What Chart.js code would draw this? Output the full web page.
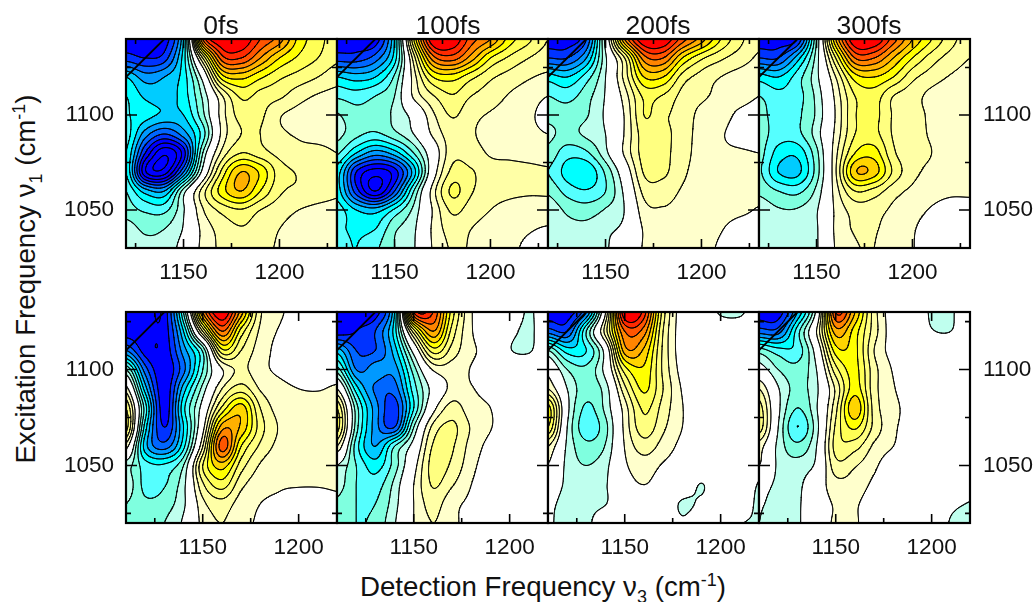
<!DOCTYPE html>
<html>
<head>
<meta charset="utf-8">
<script src="https://cdn.jsdelivr.net/npm/chart.js@4"></script>
<style>
  body { margin: 0; background: #fff; }
  #page { position: relative; width: 1033px; height: 602px; overflow: hidden; font-family: "Liberation Sans", sans-serif; color: #111; }
  canvas { position: absolute; }
  .txt { position: absolute; white-space: nowrap; transform: translate(-50%, -50%); }
  .panelTitle { font-size: 26.5px; }
  .axisTitle { font-size: 27.7px; }
  .axisTitle sub, .axisTitle sup { font-size: 18px; line-height: 0; }
</style>
</head>
<body>
<div id="page">
  <div class="txt axisTitle" style="left:543px;top:587px">Detection Frequency &nu;<sub>3</sub> (cm<sup>-1</sup>)</div>
  <div class="txt axisTitle" style="left:26px;top:279px;transform:translate(-50%,-50%) rotate(-90deg)">Excitation Frequency &nu;<sub>1</sub> (cm<sup>-1</sup>)</div>
</div>
<script>
const delayLabels = ['0fs', '100fs', '200fs', '300fs'];
const labelledTicks = [1050, 1100, 1150, 1200];
const topDetection = [1120, 1130, 1140, 1150, 1160, 1170, 1180, 1190, 1200, 1210, 1220, 1230];
const topExcitation = [1140, 1130, 1120, 1110, 1100, 1090, 1080, 1070, 1060, 1050, 1040, 1030];
const bottomDetection = [1110, 1120, 1130, 1140, 1150, 1160, 1170, 1180, 1190, 1200, 1210, 1220];
const bottomExcitation = [1130, 1120, 1110, 1100, 1090, 1080, 1070, 1060, 1050, 1040, 1030, 1020];

// signal in contour steps, rows follow the excitation list, columns the detection list
const top0fs = [
  [-9.6,-9.6,-9.6,-5,9,12,12,10,8.5,5.7,4.4,3.5],
  [-8.5,-9,-8.5,-4.5,3,9.5,10,8,6,4.8,4,3.2],
  [-5,-6.5,-6,-4.5,-0.5,5.5,6.3,5.2,4.2,3.6,3,2.4],
  [-4,-5.2,-5.5,-4.5,-1.8,1.9,4.2,3.6,3.2,2.4,1.9,1.7],
  [-3.9,-4.6,-5.2,-5,-2.3,1.5,3.4,3.2,2.1,1.7,1.5,1.6],
  [-3.5,-6.5,-8,-6.5,-3.5,1.3,3,3,2.2,1.9,1.75,1.75],
  [-4,-9,-11.8,-9.5,-2,2.3,4,3.4,2.7,2.3,2.2,2],
  [-4,-10.8,-11.5,-7,-0.5,4.3,7,5.8,3.5,2.9,2.4,2.2],
  [-3,-5.5,-6,-1.5,2.5,5.5,7,5,3.2,2.8,2.4,2.1],
  [-2.5,-3.2,-3.3,-1.1,1.9,3.3,3.9,3,2.4,2,1.8,1.8],
  [-1.5,-2.2,-2,-0.9,1.3,2.4,2.9,2.5,2,1.7,1.6,1.6],
  [-1.2,-1.7,-1.6,-0.5,1.3,2.2,2.5,2.2,1.9,1.5,1.3,1.2]
];
const top100fs = [
  [-9.6,-9.6,-9.6,-5,5,12,12,9.5,8,5.5,4.2,3],
  [-8.5,-8.5,-7.5,-4.5,2.5,8.5,9.5,7.5,5,3.8,3,2.5],
  [-5,-5.5,-5,-2.8,1.5,5,5.5,4.3,3.2,2.6,2.1,1.8],
  [-3.2,-3.5,-3,-2,1.2,2.9,3.9,3,2.5,1.9,1.5,1],
  [-1.9,-2.7,-2.6,-1.8,-0.5,1.8,3.1,2.3,1.9,1.6,1.2,0.6],
  [-1.7,-2.7,-3.2,-2.3,-1,1.2,2.5,2.1,1.7,1.5,1.3,1],
  [-2.8,-5,-6.5,-5.5,-3,0,2.6,2.4,1.9,1.8,1.7,1.6],
  [-4.5,-9,-10.5,-9.5,-5.5,0.2,3.3,3.1,2.4,2.3,2.2,2.1],
  [-4.5,-8.5,-11,-8,-3,1.5,4.2,3.1,2.4,2.2,2.1,2.1],
  [-3.5,-5,-5.5,-3.8,-1.7,1.1,3.2,2.5,2,1.7,1.6,1.6],
  [-3.8,-4.2,-4,-2.2,-1.2,1.2,2.4,2,1.6,1.4,1.1,0.9],
  [-3.6,-4,-3.2,-2,-1.1,1.1,2.1,1.9,1.4,1.2,0.8,0.6]
];
const top200fs = [
  [-9.6,-9.6,-8,-0.5,8,12,12,9.5,7.5,5,3.3,2.2],
  [-8,-8,-6,-1.2,3,8.5,9,6,4.2,3.2,2.5,1.85],
  [-4.5,-5,-3.5,-1,2.4,6,6,3.6,2.6,2,1.6,1.3],
  [-3,-3.4,-2.4,-0.9,1.5,4.2,3.9,2.7,2.2,1.7,1.4,1],
  [-2.3,-2.5,-2.1,-0.8,1.1,4,3.2,2.6,1.7,1.4,0.8,0.6],
  [-1.8,-2.3,-1.8,-1,1.1,3.5,3.3,2.5,1.6,1.1,0.7,0.7],
  [-2.3,-3.6,-3.2,-1.3,1.2,3.4,3.3,2.4,1.6,1.2,1.1,1],
  [-3,-4.4,-4.9,-2.8,0,3.1,3.2,2.2,1.6,1.4,1.3,1.3],
  [-2.2,-3.4,-3.9,-3,-0.7,2.3,2.5,1.9,1.6,1.4,1.3,1.2],
  [-1.3,-2.2,-2.5,-1.9,-0.95,1.6,1.9,1.6,1.4,1.3,1.15,0.95],
  [-1.5,-1.7,-1.7,-1.2,-0.7,1.1,1.4,1.4,1.3,1.05,0.7,0.7],
  [-1.4,-1.5,-1.5,-1.1,-0.3,1.1,1.3,1.3,1.2,0.9,0.5,0.5]
];
const top300fs = [
  [-9.6,-9.6,-9,-2,7,12,12,9.5,7,5,3.4,2.4],
  [-8,-8,-5.5,-1.5,4,9,9,7,5,3.5,2.6,2],
  [-4.5,-5,-3.5,-1.3,2,5.5,6,5,3.3,2.5,1.9,1.6],
  [-3,-3.7,-3.4,-1.7,1.3,4,4.5,3,2.4,1.7,1.3,1.2],
  [-2.6,-3.5,-3.2,-1.8,1.1,3.9,4.3,2.9,2.4,1.8,1.3,1.2],
  [-2.5,-3.5,-3.3,-1.5,1.3,4,4.3,2.9,2.3,1.9,1.4,1.3],
  [-2.6,-4.4,-4.7,-2.3,1.7,5,5.5,3.2,2.3,2,1.6,1.5],
  [-2.8,-5,-5.3,-2.5,1.9,6.8,6.5,3.8,2.3,1.8,1.6,1.5],
  [-2.2,-3,-3.3,-1.7,1.5,4,3.6,2.4,1.8,1.4,1.2,1.2],
  [-1.4,-1.9,-1.9,-1.1,1.2,2.4,2.4,1.8,1.4,0.9,0.6,0.6],
  [-1.1,-1.6,-1.4,-1.1,1.2,2.1,2.1,1.5,1.1,0.5,0.5,0.6],
  [-1,-1.3,-1.3,-1.1,1.1,1.9,2,1.4,1.05,0.4,0.4,0.4]
];
const bottom0fs = [
  [-9.6,-9.6,-9.6,-3,8,12,7.5,2.2,1.2,0.5,0.4,0.9],
  [-9.6,-9.6,-9.6,-5,3,9,4.6,1.8,0.9,0.3,0.3,0.5],
  [-7,-9.5,-9.7,-6.5,-2.8,4.7,3,1.5,0.7,0.2,0.2,0.3],
  [-2,-7.5,-9.8,-7.3,-3,0.9,2.2,1.3,0.8,0.5,0.5,0.6],
  [1.5,-5.5,-9.7,-5.5,-1.6,2,3.5,1.9,1.3,1,0.95,1.1],
  [4,-3.5,-9.6,-4.3,-0.4,4.2,6.5,3,1.6,1.4,1.3,1.3],
  [4.5,-4.5,-9,-5,0.5,7.5,6.8,3.5,1.9,1.5,1.4,1.4],
  [1.5,-5.5,-7.5,-4.3,2,9.5,5,2.8,1.7,1.4,1.3,1.3],
  [-1.5,-3.5,-3.8,-2,4,6.5,3.5,1.9,1.3,1.2,1.2,1.3],
  [-1.3,-3.3,-3.1,-1.3,2.8,4.5,2.3,1.4,1.1,1.05,1.05,1.1],
  [-2,-2.8,-2.5,-1.2,1.7,2.6,1.5,1,0.8,0.6,0.6,0.8],
  [-2.2,-2.4,-2,-0.8,1.3,2,1.2,0.9,0.5,0.4,0.4,0.5]
];
const bottom100fs = [
  [-9.6,-9.6,-9.5,-5,10,10,4.5,1.1,0.4,0.4,-1.2,0.3],
  [-9.6,-9,-8,-4.5,3.5,8,3.6,1.1,0.5,-0.5,-1.3,0.2],
  [-5.5,-8,-8,-5.5,-0.4,4.5,2.6,1.2,0.6,-0.9,-1.15,0.2],
  [-2.5,-7,-6.5,-6.5,-2.5,1.1,1.5,0.95,0.6,0.3,0.2,0.2],
  [1,-4.5,-7.2,-7.5,-3.5,-0.5,1.3,1.05,0.7,0.4,0.3,0.3],
  [4,-2.5,-6.5,-8.5,-4,0.5,2.4,1.4,1,0.5,0.3,0.3],
  [4.5,-2.5,-6.5,-8,-2,2.3,3.2,1.9,1.05,0.6,0.3,0.3],
  [2,-3.5,-6,-3,-0.4,3.1,3.1,1.6,0.7,0.4,0.2,0.2],
  [-1,-3,-4.5,-2.5,0.5,3.4,2.8,1.3,0.5,0.3,0.2,0.2],
  [-1.5,-3,-3.5,-1.7,1,3.1,2.1,1,0.5,0.3,0.2,0.2],
  [-2.2,-3,-3,-1.4,1,2.4,1.3,0.8,0.4,0.2,0.2,0.2],
  [-2.2,-3,-2.7,-1.1,1,2,1.2,0.7,0.3,0.2,0.2,0.2]
];
const bottom200fs = [
  [-9.6,-9.6,-7,1,12,10.5,3.5,0.4,0.3,-1.2,-1.3,0.3],
  [-7.5,-8,-3,2.5,9,8.5,3,0.4,0.3,0.2,0.2,0.2],
  [-2,-4.5,-4,-0.3,7.5,6.8,2.8,0.4,0.3,0.2,0.2,0.2],
  [0.5,-2,-2.7,-0.5,4.5,5.8,2.8,0.6,0.3,0.2,0.2,0.2],
  [2,-1,-2.5,-1.5,2.7,5.2,3,0.9,0.3,0.2,0.2,0.2],
  [5.5,-0.6,-3.2,-1.7,1.5,4.2,2.6,1.05,0.3,0.2,0.2,0.2],
  [5,-1,-3.6,-2.3,1.3,3.6,2.2,1,0.3,0.2,0.2,0.2],
  [2,-1.2,-2.7,-1.9,1.05,2.5,1.6,0.7,0.3,0.2,0.2,0.2],
  [0.9,-1.3,-2,-1.3,0.8,1.5,0.9,0.4,0.3,0.3,0.3,-0.3],
  [-0.3,-1.2,-1.6,-1.1,0.5,1,0.5,0.1,-1.05,0.2,0.3,-1.1],
  [-0.8,-1.3,-1.4,-1.05,0.4,0.5,0.3,-1.2,-0.7,0.2,0,-1.3],
  [-0.9,-1.3,-1.35,0.2,0.3,0.6,0.4,-0.8,0.2,0.2,-0.9,-1.1]
];
const bottom300fs = [
  [-9.6,-9.6,-6,-0.5,10,7,2.5,0.4,0.3,-1.2,-1.2,0.3],
  [-7.5,-7.5,-3.5,1,7.5,5.5,2.5,0.4,0.2,-0.9,-1,0.2],
  [-2.5,-3.6,-3.6,-0.3,5.5,5.3,2,0.6,0.2,0.2,0.2,0.2],
  [-0.3,-2,-2.6,-1,3.6,5.3,2.4,0.9,0.3,0.2,0.2,0.2],
  [2,-0.9,-2.3,-1.2,2.2,5.5,2.4,1.1,0.4,0.2,0.2,0.2],
  [3.5,-0.7,-3,-1.1,2.7,6.8,2.6,1.3,0.6,0.2,0.2,0.2],
  [3.6,-1,-4,-1.4,3.2,5.2,2.7,1.2,0.6,0.2,0.2,0.2],
  [1.5,-1.3,-2.7,-1,3.4,3.4,1.8,1,0.3,0.2,0.2,0.2],
  [1,-1.2,-1.6,-0.7,2.6,2.1,1.2,0.3,0.1,0.1,0.1,0.1],
  [-0.5,-1.2,-1.3,0.2,1.6,1.5,0.8,0.3,0.2,0.1,0.1,-0.5],
  [-0.9,-1.3,-1.2,0.3,1.1,1.1,0.5,0.3,0.2,0.2,-0.7,-1.05],
  [-1,-1.3,-1.2,0.4,1.1,1.1,0.4,0.3,0.2,0.1,-1.1,-1.2]
];

const positiveColors = ['#FFFFCC', '#FFFFA6', '#FFFF80', '#FFFF55', '#FFFF00', '#FFD500', '#FFB000', '#FF8500', '#FF5500', '#FF2A00', '#FF0000'];
const negativeColors = ['#BFFFEE', '#7FFFDF', '#55FFFF', '#00FFFF', '#00CCFF', '#0099FF', '#0066FF', '#0033FF', '#0000FF'];
const contourLevels = [-12, -11, -10, -9, -8, -7, -6, -5, -4, -3, -2, -1, 1, 2, 3, 4, 5, 6, 7, 8, 9, 10, 11];

const panels = [
  { field: top0fs, xs: topDetection, ys: topExcitation },
  { field: top100fs, xs: topDetection, ys: topExcitation },
  { field: top200fs, xs: topDetection, ys: topExcitation },
  { field: top300fs, xs: topDetection, ys: topExcitation },
  { field: bottom0fs, xs: bottomDetection, ys: bottomExcitation },
  { field: bottom100fs, xs: bottomDetection, ys: bottomExcitation },
  { field: bottom200fs, xs: bottomDetection, ys: bottomExcitation },
  { field: bottom300fs, xs: bottomDetection, ys: bottomExcitation }
];

const PANEL_LEFT = [126, 337, 548, 759];
const PANEL_TOP = [39, 312];
const PANEL_W = 211;
const PANEL_H = [209, 211];
const TITLE_X = [221, 448, 658, 869];
const SIDE = 70;
const UNDER = 46;

const catmull = (a, b, c, d, t) =>
  0.5 * (2 * b + (c - a) * t + (2 * a - 5 * b + 4 * c - d) * t * t + (3 * b - a - 3 * c + d) * t * t * t);

const sampleField = (panel, x, y) => {
  const { field, xs, ys } = panel;
  const u = Math.min(Math.max((x - xs[0]) / 10, 0), 11);
  const v = Math.min(Math.max((ys[0] - y) / 10, 0), 11);
  const i = Math.min(Math.floor(u), 10);
  const j = Math.min(Math.floor(v), 10);
  const col = n => Math.min(Math.max(n, 0), 11);
  const vals = [];
  for (let r = j - 1; r <= j + 2; r++) {
    const row = field[col(r)];
    vals.push(catmull(row[col(i - 1)], row[i], row[i + 1], row[col(i + 2)], u - i));
  }
  return catmull(vals[0], vals[1], vals[2], vals[3], v - j);
};

const bandColor = (z) => {
  const a = Math.abs(z);
  if (a < 1) return '#FFFFFF';
  const table = z > 0 ? positiveColors : negativeColors;
  return table[Math.min(Math.floor(a), table.length) - 1];
};

// marching squares, one broken line per level
const contourPoints = (panel, level) => {
  const step = 0.5;
  const x0 = panel.xs[0], y0 = panel.ys[11];
  const n = 220;
  const z = [];
  for (let j = 0; j <= n; j++) {
    const row = [];
    for (let i = 0; i <= n; i++) row.push(sampleField(panel, x0 + i * step, y0 + j * step));
    z.push(row);
  }
  const pts = [];
  const cross = (a, b) => (level - a) / (b - a);
  for (let j = 0; j < n; j++) {
    for (let i = 0; i < n; i++) {
      const a = z[j][i], b = z[j][i + 1], c = z[j + 1][i + 1], d = z[j + 1][i];
      const hits = [];
      const X = x0 + i * step, Y = y0 + j * step;
      if ((a < level) !== (b < level)) hits.push({ x: X + step * cross(a, b), y: Y });
      if ((b < level) !== (c < level)) hits.push({ x: X + step, y: Y + step * cross(b, c) });
      if ((c < level) !== (d < level)) hits.push({ x: X + step * cross(d, c), y: Y + step });
      if ((d < level) !== (a < level)) hits.push({ x: X, y: Y + step * cross(a, d) });
      for (let h = 0; h + 1 < hits.length; h += 2) {
        pts.push(hits[h], hits[h + 1], { x: NaN, y: NaN });
      }
    }
  }
  return pts;
};

const fillPlugin = {
  id: 'bandFill',
  beforeDatasetsDraw(chart) {
    const { ctx, chartArea, scales, options } = chart;
    const panel = options.plugins.bandFill.panel;
    const l = Math.round(chartArea.left), r = Math.round(chartArea.right);
    const t = Math.round(chartArea.top), b = Math.round(chartArea.bottom);
    ctx.save();
    for (let py = t; py < b; py++) {
      const y = scales.y.getValueForPixel(py + 0.5);
      let start = l, current = null;
      for (let px = l; px <= r; px++) {
        const color = px < r ? bandColor(sampleField(panel, scales.x.getValueForPixel(px + 0.5), y)) : null;
        if (color !== current) {
          if (current) {
            ctx.fillStyle = current;
            ctx.fillRect(start, py, px - start, 1);
          }
          start = px;
          current = color;
        }
      }
    }
    ctx.restore();
  }
};

const framePlugin = {
  id: 'frame',
  afterDraw(chart) {
    const { ctx, chartArea: a, scales } = chart;
    ctx.save();
    ctx.strokeStyle = '#000';
    ctx.lineWidth = 1.6;
    ctx.beginPath();
    scales.x.ticks.forEach(t => {
      const px = scales.x.getPixelForValue(t.value);
      const len = labelledTicks.includes(t.value) ? 9 : 5;
      ctx.moveTo(px, a.bottom); ctx.lineTo(px, a.bottom - len);
      ctx.moveTo(px, a.top); ctx.lineTo(px, a.top + len);
    });
    scales.y.ticks.forEach(t => {
      const py = scales.y.getPixelForValue(t.value);
      const len = labelledTicks.includes(t.value) ? 11 : 5;
      ctx.moveTo(a.left, py); ctx.lineTo(a.left + len, py);
      ctx.moveTo(a.right, py); ctx.lineTo(a.right - len, py);
    });
    ctx.stroke();
    ctx.lineWidth = 2.2;
    ctx.strokeRect(a.left, a.top, a.right - a.left, a.bottom - a.top);
    ctx.restore();
  }
};

// keep every plot box the same size, whatever the tick labels want
const fixBox = (scale, size, horizontal) => {
  if (horizontal) scale.height = size; else scale.width = size;
  scale.paddingLeft = scale.paddingRight = scale.paddingTop = scale.paddingBottom = 0;
};

const page = document.getElementById('page');

panels.forEach((panel, idx) => {
  const col = idx % 4;
  const row = idx < 4 ? 0 : 1;
  const leftPad = col === 0 ? SIDE : 2;
  const rightPad = col === 3 ? SIDE : 2;
  const canvas = document.createElement('canvas');
  canvas.width = PANEL_W + leftPad + rightPad;
  canvas.height = PANEL_H[row] + 2 + UNDER;
  canvas.style.left = (PANEL_LEFT[col] - leftPad) + 'px';
  canvas.style.top = (PANEL_TOP[row] - 2) + 'px';
  page.appendChild(canvas);

  const xMin = panel.xs[0], xMax = panel.xs[11];
  const yMin = panel.ys[11], yMax = panel.ys[0];
  const datasets = contourLevels.map(level => ({
    label: 'level ' + level,
    data: contourPoints(panel, level),
    showLine: true,
    spanGaps: false,
    borderColor: '#000',
    borderWidth: 1,
    borderCapStyle: 'round',
    pointRadius: 0
  }));
  datasets.push({
    label: 'diagonal',
    data: [{ x: xMin, y: xMin }, { x: yMax, y: yMax }],
    showLine: true,
    borderColor: '#000',
    borderWidth: 1.8,
    pointRadius: 0
  });

  new Chart(canvas, {
    type: 'scatter',
    data: { datasets },
    plugins: [fillPlugin, framePlugin],
    options: {
      responsive: false,
      animation: false,
      events: [],
      layout: { padding: { top: 2, left: col === 0 ? 0 : 2, right: col === 3 ? 0 : 2, bottom: 0 } },
      plugins: { legend: { display: false }, tooltip: { enabled: false }, bandFill: { panel } },
      scales: {
        x: {
          type: 'linear', min: xMin, max: xMax,
          grid: { display: false, drawTicks: false }, border: { display: false },
          afterFit: s => fixBox(s, UNDER, true),
          ticks: {
            stepSize: 25, includeBounds: false, autoSkip: false, maxRotation: 0, padding: 11,
            color: '#111', font: { family: 'Liberation Sans', size: 22.5 },
            callback: v => (labelledTicks.includes(v) ? String(v) : '')
          }
        },
        y: {
          type: 'linear', min: yMin, max: yMax,
          position: col === 3 ? 'right' : 'left',
          grid: { display: false, drawTicks: false }, border: { display: false },
          afterFit: s => fixBox(s, (col === 0 || col === 3) ? SIDE : 0, false),
          ticks: {
            stepSize: 25, includeBounds: false, autoSkip: false, padding: col === 3 ? 13 : 12,
            display: col === 0 || col === 3,
            color: '#111', font: { family: 'Liberation Sans', size: 22.5 },
            callback: v => (labelledTicks.includes(v) ? String(v) : '')
          }
        }
      }
    }
  });
});

delayLabels.forEach((label, i) => {
  const el = document.createElement('div');
  el.className = 'txt panelTitle';
  el.style.left = TITLE_X[i] + 'px';
  el.style.top = '25px';
  el.textContent = label;
  page.appendChild(el);
});
</script>
</body>
</html>
